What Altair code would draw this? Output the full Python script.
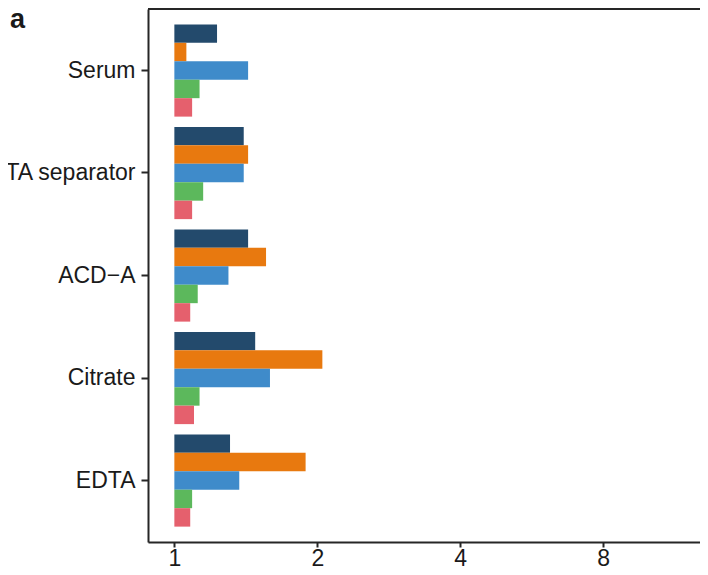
import altair as alt
import pandas as pd

# ---- data ----
categories = ["Serum", "EDTA separator", "ACD\u2212A", "Citrate", "EDTA"]
series = ["S1", "S2", "S3", "S4", "S5"]
colors = ["#234A6C", "#E8790F", "#3F8BCA", "#5CB85C", "#E5606D"]

s1_values = [1.23, 1.40, 1.43, 1.48, 1.31]
s2_values = [1.06, 1.43, 1.56, 2.05, 1.89]
s3_values = [1.43, 1.40, 1.30, 1.59, 1.37]
s4_values = [1.13, 1.15, 1.12, 1.13, 1.09]
s5_values = [1.09, 1.09, 1.08, 1.10, 1.08]

x_ticks = [1, 2, 4, 8]
x_domain = [0.88, 12.8]
panel_label = "a"

all_values = [s1_values, s2_values, s3_values, s4_values, s5_values]
rows = []
for s, vals in zip(series, all_values):
    for c, v in zip(categories, vals):
        rows.append({"category": c, "series": s, "value": v})
df = pd.DataFrame(rows)

W, H = 552, 533
FONT = "Liberation Sans"
LINE = "#262626"
TEXT = "#1a1a1a"

bars = alt.Chart(df).mark_bar().encode(
    y=alt.Y(
        "category:N",
        sort=categories,
        title=None,
        scale=alt.Scale(paddingInner=0.1, paddingOuter=0.15),
        axis=alt.Axis(
            labelFontSize=23, labelFont=FONT, labelColor=TEXT,
            tickSize=7, tickWidth=2, tickColor=LINE,
            domainWidth=2, domainColor=LINE, labelPadding=6, grid=False,
            labelLimit=0,
        ),
    ),
    yOffset=alt.YOffset(
        "series:N", sort=series,
        scale=alt.Scale(paddingInner=0, paddingOuter=0),
    ),
    x=alt.X(
        "value:Q",
        title=None,
        scale=alt.Scale(type="log", base=2, domain=x_domain, nice=False),
        axis=alt.Axis(
            values=x_ticks, format="d",
            labelFontSize=23, labelFont=FONT, labelColor=TEXT,
            tickSize=5, tickWidth=2, tickColor=LINE,
            domainWidth=2, domainColor=LINE, labelPadding=0, grid=False,
            labelFlush=False,
        ),
    ),
    x2=alt.datum(1),
    color=alt.Color(
        "series:N", sort=series,
        scale=alt.Scale(domain=series, range=colors), legend=None,
    ),
)

top_line = alt.Chart(pd.DataFrame({"k": [0]})).mark_rule(
    color=LINE, strokeWidth=2
).encode(x=alt.value(0), x2=alt.value(W), y=alt.value(0))

label = alt.Chart(pd.DataFrame({"t": [panel_label]})).mark_text(
    font=FONT, fontSize=27, fontWeight="bold", align="left",
    baseline="alphabetic", color=TEXT,
).encode(text="t:N", x=alt.value(-138), y=alt.value(19))

chart = alt.layer(bars, top_line, label).properties(
    width=W, height=H,
    autosize=alt.AutoSizeParams(type="none"),
    padding={"left": 140, "top": 1, "right": 0, "bottom": 25},
).configure_view(stroke=None).configure(background="white")

chart.save("out.html", embed_options={"renderer": "svg", "actions": False})
